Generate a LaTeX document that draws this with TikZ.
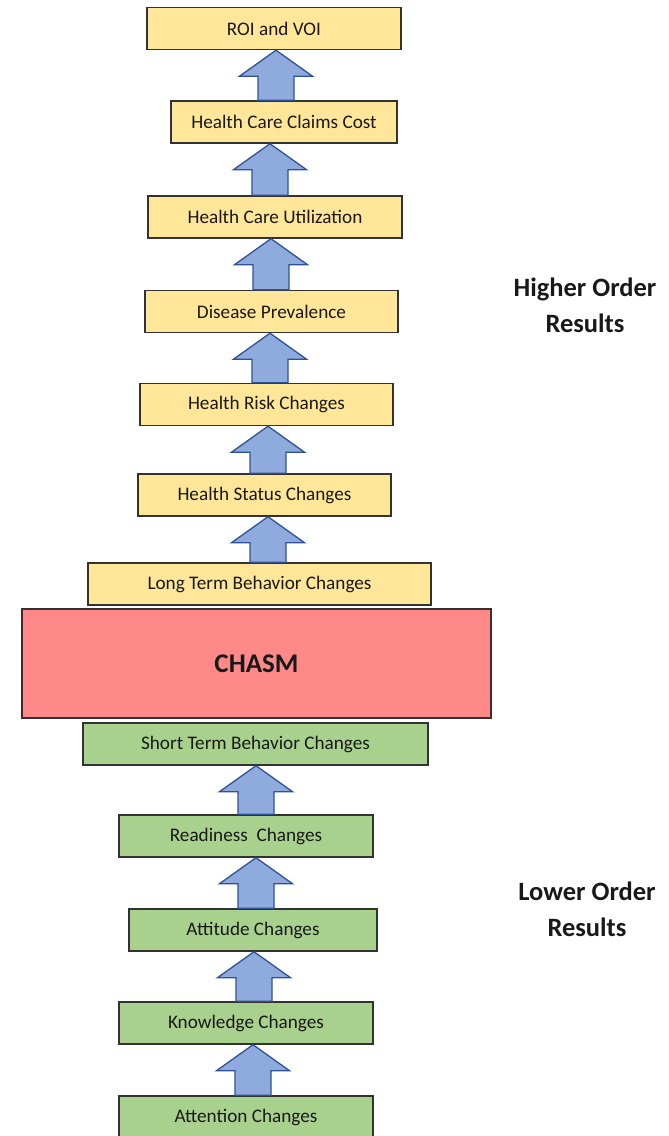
\documentclass[tikz,border=0pt]{standalone}
\usepackage{fontspec}
\setmainfont{Carlito}
\usetikzlibrary{calc}
\definecolor{ybox}{RGB}{255,230,153}
\definecolor{gbox}{RGB}{169,209,142}
\definecolor{rbox}{RGB}{255,137,137}
\definecolor{afill}{RGB}{143,170,220}
\definecolor{aline}{RGB}{47,82,150}
\definecolor{bline}{RGB}{50,50,50}
\definecolor{txt}{RGB}{25,25,25}
\tikzset{
  box/.style={draw=bline, line width=1.4pt, inner sep=0pt, text=txt,
    font=\fontsize{19.2}{22}\selectfont},
  yb/.style={box, fill=ybox, minimum height=42pt},
  gb/.style={box, fill=gbox, minimum height=42pt},
  barrow/.style={draw=aline, fill=afill, line width=1.3pt, line join=miter},
  side/.style={align=center, text=txt, font=\fontsize{26.5}{36}\selectfont\bfseries}
}
\newcommand{\uparr}[3]{%
  \path[barrow] let \p1=(#2.north), \p2=(#3.south) in
    ({#1pt-18pt},\y1) -- ({#1pt-18pt},\y2-26pt) -- ({#1pt-36.5pt},\y2-26pt)
    -- (#1pt,\y2) -- ({#1pt+36.5pt},\y2-26pt) -- ({#1pt+18pt},\y2-26pt)
    -- ({#1pt+18pt},\y1) -- cycle;}
\begin{document}
\begin{tikzpicture}[x=1pt,y=-1pt]
\useasboundingbox (0,0) rectangle (669,1136);
% higher order
\node[yb, minimum width=254pt] (roi) at (274,28.5) {ROI and VOI};
\node[yb, minimum width=226pt] (claims) at (284,122) {Health Care Claims Cost};
\node[yb, minimum width=254pt] (util) at (275,217) {Health Care Utilization};
\node[yb, minimum width=253pt] (dis) at (271.5,311.5) {Disease Prevalence};
\node[yb, minimum width=253pt] (risk) at (266.5,404.5) {Health Risk Changes};
\node[yb, minimum width=253pt] (status) at (264.5,495) {Health Status Changes};
\node[yb, minimum width=343pt] (long) at (259.5,584) {Long Term Behavior Changes};
% chasm
\node[box, fill=rbox, minimum width=469pt, minimum height=109pt,
  font=\fontsize{27}{30}\selectfont\bfseries] (chasm) at (256.5,663.5) {CHASM};
% lower order
\node[gb, minimum width=345pt] (short) at (255.5,744) {Short Term Behavior Changes};
\node[gb, minimum width=254pt] (ready) at (246,836) {Readiness\ \ Changes};
\node[gb, minimum width=248pt] (att) at (253,930) {Attitude Changes};
\node[gb, minimum width=254pt] (know) at (246,1023) {Knowledge Changes};
\node[gb, minimum width=254pt] (attn) at (246,1117) {Attention Changes};
% arrows
\uparr{276}{claims}{roi}
\uparr{270}{util}{claims}
\uparr{271}{dis}{util}
\uparr{270}{risk}{dis}
\uparr{268}{status}{risk}
\uparr{268}{long}{status}
\uparr{256}{ready}{short}
\uparr{256}{att}{ready}
\uparr{254}{know}{att}
\uparr{253}{attn}{know}
% side labels
\node[side] (higher) at (585,305) {Higher Order\\Results};
\node[side] (lower) at (587,909) {Lower Order\\Results};
\end{tikzpicture}
\end{document}
